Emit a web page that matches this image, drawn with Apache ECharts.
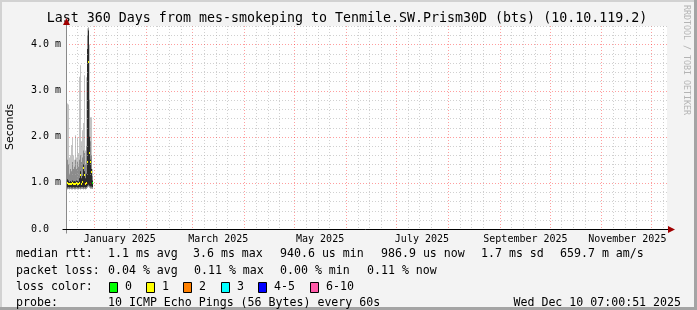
<!DOCTYPE html>
<html><head><meta charset="utf-8">
<script src="https://cdn.jsdelivr.net/npm/echarts@6/dist/echarts.min.js"></script>
<style>html,body{margin:0;padding:0;background:#f3f3f3}#c{width:697px;height:310px}</style>
</head><body><div id="c"></div>
<script>
// ---------- DATA ----------
const titleText = 'Last 360 Days from mes-smokeping to Tenmile.SW.Prism30D (bts) (10.10.119.2)';
const startTime = Date.UTC(2024, 11, 15, 7, 0, 51);
const endTime = Date.UTC(2025, 11, 10, 7, 0, 51);
const DAY = 86400000;
const stepMs = 0.6 * DAY; // one RRA step (one pixel column)

// per-step smoke values (ms)
const smokeMin = [0.86,0.86,0.87,0.86,0.87,0.86,0.86,0.87,0.86,0.86,0.87,0.86,0.86,0.87,0.86,0.87,0.87,0.86,0.87,0.86,0.87,0.90,0.92,0.90,0.88,0.88,0.87];
const darkTop  = [1.05,1.08,1.05,1.02,1.04,1.02,1.05,1.03,1.04,1.03,1.05,1.04,1.03,1.10,1.25,1.10,1.15,1.40,1.25,1.10,1.20,3.90,4.30,2.00,1.50,1.30,1.05];
const midTop   = [1.35,1.50,1.40,1.20,1.30,1.25,1.45,1.30,1.35,1.50,1.30,1.45,1.35,1.50,1.60,1.45,1.55,1.70,1.65,1.40,1.80,4.20,4.35,2.80,1.90,1.60,1.15];
const smokeMax = [2.42,2.72,2.70,1.55,1.60,1.82,1.97,1.60,1.50,2.03,1.55,1.97,1.65,3.30,3.55,1.90,2.14,2.30,3.33,1.70,3.29,4.35,4.38,4.00,2.42,2.42,1.30];
const medianRtt = [1.02,1.00,0.98,0.97,0.98,0.97,1.00,0.97,0.98,0.97,1.00,0.98,0.97,1.00,1.17,0.98,1.02,1.32,1.17,0.98,1.00,1.45,3.61,1.64,1.45,1.23,0.99];
const lossIdx  = [1,1,1,1,1,1,1,1,1,1,1,1,1,1,1,1,1,1,1,1,1,1,1,1,1,1,0];

const lossColors = ['#00ff00','#ffff00','#ff8000','#00ffff','#0000ff','#ff5aa8'];
const lossLabels = ['0','1','2','3','4-5','6-10'];

const yMax = 4.4;
const yLabelValues = [0, 1, 2, 3, 4];
const yMinorStep = 0.2;
const xLabelDates = [Date.UTC(2025,0,16,12), Date.UTC(2025,2,16,12), Date.UTC(2025,4,16,12), Date.UTC(2025,6,16,12), Date.UTC(2025,8,16,12), Date.UTC(2025,10,16,12)];
const xLabelTexts = ['January 2025','March 2025','May 2025','July 2025','September 2025','November 2025'];
const monthStarts = [];
for (let m = 0; m < 12; m++) monthStarts.push(Date.UTC(2025, m, 1));
const minorDays = [8, 15, 22];

const legendRtt = ['median rtt:', '1.1 ms avg', '3.6 ms max', '940.6 us min', '986.9 us now', '1.7 ms sd', '659.7 m am/s'];
const legendLoss = ['packet loss:', '0.04 % avg', '0.11 % max', '0.00 % min', '0.11 % now'];
const probeText = ['probe:', '10 ICMP Echo Pings (56 Bytes) every 60s'];
const dateText = 'Wed Dec 10 07:00:51 2025';

// ---------- BUILD ----------
const stepTimes = smokeMin.map((_, i) => startTime + i * stepMs);
const vLines = [];
const mstarts = [Date.UTC(2024,11,1)].concat(monthStarts);
mstarts.forEach((ms) => {
  const d = new Date(ms);
  if (ms >= startTime && ms <= endTime) vLines.push([ms, 0, 1]);
  minorDays.forEach(day => {
    const t = Date.UTC(d.getUTCFullYear(), d.getUTCMonth(), day);
    if (t >= startTime && t <= endTime) vLines.push([t, 0, 0]);
  });
});
const hLines = [];
for (let k = 1; k * yMinorStep <= yMax + 1e-9; k++) {
  const v = +(k * yMinorStep).toFixed(2);
  hLines.push([startTime, v, Math.abs(v - Math.round(v)) < 1e-6 ? 1 : 0]);
}

const MAJ = 'rgba(255,0,0,0.38)';
const MIN = 'rgba(170,170,170,0.55)';

function band(lows, highs, color, z) {
  return {
    type: 'custom', coordinateSystem: 'cartesian2d', clip: true, silent: true, z: z,
    data: stepTimes.map((t, i) => [t, lows[i], highs[i]]),
    encode: { x: 0, y: [1, 2] },
    renderItem(params, api) {
      const t = api.value(0);
      const a = api.coord([t, api.value(1)]);
      const b = api.coord([t + stepMs, api.value(2)]);
      const x0 = Math.round(a[0]);
      const x1 = Math.max(x0 + 1, Math.round(b[0]));
      return { type: 'rect', shape: { x: x0, y: b[1], width: x1 - x0, height: a[1] - b[1] }, style: { fill: color } };
    }
  };
}

const series = [
  band(smokeMin, smokeMax, '#c4c4c4', 2),
  band(smokeMin, midTop, '#8c8c8c', 3),
  band(smokeMin.map(v => v + 0.04), darkTop, '#2a2a2a', 4),
  { // grid lines vertical
    type: 'custom', silent: true, z: 5, clip: true,
    data: vLines, encode: { x: 0, y: 1 },
    renderItem(params, api) {
      const cs = params.coordSys;
      const x = Math.round(api.coord([api.value(0), 0])[0]) + 0.5;
      const major = api.value(2) === 1;
      return { type: 'line', shape: { x1: x, y1: cs.y, x2: x, y2: cs.y + cs.height }, style: { stroke: major ? MAJ : MIN, lineWidth: 1, lineDash: [1, 2] } };
    }
  },
  { // grid lines horizontal
    type: 'custom', silent: true, z: 5, clip: false,
    data: hLines, encode: { x: 0, y: 1 },
    renderItem(params, api) {
      const cs = params.coordSys;
      const y = Math.round(api.coord([startTime, api.value(1)])[1]) + 0.5;
      const major = api.value(2) === 1;
      return { type: 'line', shape: { x1: cs.x, y1: y, x2: cs.x + cs.width, y2: y }, style: { stroke: major ? MAJ : MIN, lineWidth: 1, lineDash: [1, 2] } };
    }
  },
  { // median rtt coloured by loss
    type: 'custom', silent: true, z: 6, clip: true,
    data: stepTimes.map((t, i) => [t, medianRtt[i], lossIdx[i]]),
    encode: { x: 0, y: 1 },
    renderItem(params, api) {
      const t = api.value(0);
      const a = api.coord([t, api.value(1)]);
      const b = api.coord([t + stepMs, api.value(1)]);
      const x0 = Math.round(a[0]);
      const x1 = Math.max(x0 + 1, Math.round(b[0]));
      return { type: 'rect', shape: { x: x0, y: Math.round(a[1]) - 1, width: x1 - x0, height: 2 }, style: { fill: lossColors[api.value(2)] } };
    }
  },
  { // axes lines with arrows
    type: 'custom', silent: true, z: 7, clip: false,
    data: [[startTime, 0]], encode: { x: 0, y: 1 },
    renderItem(params, api) {
      const cs = params.coordSys;
      const y0 = Math.round(cs.y + cs.height) + 0.5;
      const x0 = Math.round(cs.x) + 0.5;
      const xe = cs.x + cs.width + 1;
      const yt = cs.y - 1;
      return { type: 'group', children: [
        { type: 'line', shape: { x1: x0, y1: y0 + 4, x2: x0, y2: yt }, style: { stroke: '#8a8a8a', lineWidth: 1 } },
        { type: 'line', shape: { x1: x0 - 4, y1: y0, x2: xe, y2: y0 }, style: { stroke: '#000', lineWidth: 1 } },
        { type: 'polygon', shape: { points: [[xe, y0 - 3.5], [xe, y0 + 3.5], [xe + 7, y0]] }, style: { fill: '#a00000' } },
        { type: 'polygon', shape: { points: [[x0 - 3.5, yt], [x0 + 3.5, yt], [x0, yt - 7]] }, style: { fill: '#a00000' } }
      ] };
    }
  }
];

const mono = 'DejaVu Sans Mono';
const graphics = [
  { type: 'rect', shape: { x: 0, y: 0, width: 697, height: 310 }, style: { fill: '#f3f3f3' }, z: -10, silent: true },
  { type: 'rect', shape: { x: 0, y: 0, width: 697, height: 2 }, style: { fill: '#d2d2d2' }, z: -9, silent: true },
  { type: 'rect', shape: { x: 0, y: 0, width: 2, height: 310 }, style: { fill: '#d2d2d2' }, z: -9, silent: true },
  { type: 'rect', shape: { x: 694, y: 0, width: 3, height: 310 }, style: { fill: '#a4a4a4' }, z: -9, silent: true },
  { type: 'rect', shape: { x: 0, y: 307, width: 697, height: 3 }, style: { fill: '#a4a4a4' }, z: -9, silent: true },
  { type: 'text', x: 347, y: 19, style: { text: titleText, font: '13.3px ' + mono, fill: '#000', textAlign: 'center', textVerticalAlign: 'middle' } },
  { type: 'text', x: 10, y: 127, rotation: Math.PI / 2, style: { text: 'Seconds', font: '11px DejaVu Sans', fill: '#000', textAlign: 'center', textVerticalAlign: 'middle' } },
  { type: 'text', x: 686, y: 5, rotation: -Math.PI / 2, style: { text: 'RRDTOOL / TOBI OETIKER', font: '8.3px ' + mono, fill: '#b4b4b4', textAlign: 'left', textVerticalAlign: 'middle' } }
];
const lf = '11.6px ' + mono;
function txt(x, y, s, align) {
  graphics.push({ type: 'text', x: x, y: y, style: { text: s, font: lf, fill: '#000', textAlign: align || 'left', textVerticalAlign: 'middle' } });
}
const rttX = [16, 108, 193, 280, 381, 481, 560];
legendRtt.forEach((s, i) => txt(rttX[i], 254, s));
const lossX = [16, 108, 194, 280, 367];
legendLoss.forEach((s, i) => txt(lossX[i], 271, s));
txt(16, 287, 'loss color:');
const boxX = [109, 146, 183, 221, 258, 310];
lossLabels.forEach((s, i) => {
  graphics.push({ type: 'rect', shape: { x: boxX[i] + 0.5, y: 282.5, width: 8, height: 10 }, style: { fill: lossColors[i], stroke: '#000', lineWidth: 1 } });
  txt(boxX[i] + 16, 287, s);
});
txt(16, 303, probeText[0]);
txt(108, 303, probeText[1]);
txt(681, 303, dateText, 'right');

const chart = echarts.init(document.getElementById('c'));
chart.setOption({
  animation: false,
  backgroundColor: '#f3f3f3',
  grid: { left: 66, top: 26, width: 601, height: 203, backgroundColor: '#ffffff', show: true, borderWidth: 0 },
  xAxis: {
    type: 'value', min: startTime, max: endTime,
    axisLine: { show: false }, axisTick: { show: false }, splitLine: { show: false },
    axisLabel: {
      customValues: xLabelDates, margin: 5, color: '#000', fontFamily: mono, fontSize: 10,
      formatter: v => { const k = xLabelDates.indexOf(v); return k >= 0 ? xLabelTexts[k] : ''; }
    }
  },
  yAxis: {
    type: 'value', min: 0, max: yMax,
    axisLine: { show: false }, splitLine: { show: false },
    axisTick: { show: false },
    axisLabel: {
      customValues: yLabelValues, margin: 5, color: '#000', fontFamily: mono, fontSize: 10,
      formatter: v => v === 0 ? '0.0  ' : v.toFixed(1) + ' m'
    }
  },
  graphic: graphics,
  series: series
});
</script></body></html>
